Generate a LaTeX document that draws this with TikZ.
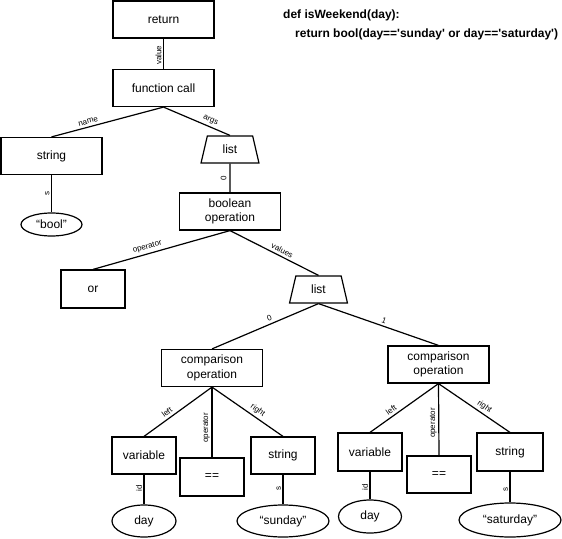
\documentclass[tikz,border=0pt]{standalone}
\usepackage{fontspec}
\setmainfont{Liberation Sans}
\newfontfamily\codefont{Liberation Sans}
\usetikzlibrary{shapes.geometric}
\tikzset{
  lw/.style={line width=1.2pt},
  box/.style={draw, lw, rectangle, minimum width=101pt, minimum height=37pt, align=center, inner sep=1pt, font=\fontsize{12}{14.4}\selectfont},
  sbox/.style={box, minimum width=64pt},
  leaf/.style={draw, lw, ellipse, minimum width=64pt, minimum height=32pt, inner sep=0pt, font=\fontsize{12}{14.4}\selectfont},
  listbox/.style={draw, lw, trapezium, trapezium angle=77, trapezium stretches=true, minimum width=58pt, minimum height=27pt, inner sep=0pt, font=\fontsize{12}{14.4}\selectfont},
  edge/.style={lw},
  lbl/.style={font=\fontsize{8}{9.6}\selectfont, inner sep=1.5pt},
  slab/.style={lbl, sloped, above, inner sep=2.5pt},
  vlab/.style={lbl, rotate=90, anchor=south},
  code/.style={anchor=base west, inner sep=0pt, font=\codefont\bfseries\fontsize{12}{14.4}\selectfont},
}
\begin{document}
\begin{tikzpicture}[x=1pt, y=-1pt]
\useasboundingbox (0,0) rectangle (562,538);

\node[code] (code1) at (283,19) {def isWeekend(day):};
\node[code] (code2) at (295,37) {return bool(day=='sunday' or day=='saturday')};

\node[box] (ret) at (163.5,19.5) {return};
\node[box] (fc) at (163.5,88) {function call};
\node[box] (str0) at (51.5,156) {string};
\node[leaf, minimum width=61pt, minimum height=23pt] (boolv) at (51.5,224.5) {“bool”};
\node[listbox] (list1) at (230,149.5) {list};
\node[box] (bop) at (230,211.5) {boolean\\operation};
\node[sbox, minimum height=38pt] (orn) at (93,289) {or};
\node[listbox] (list2) at (318.5,289.5) {list};
\node[box] (cmp1) at (212,368) {comparison\\operation};
\node[box] (cmp2) at (438.5,364.5) {comparison\\operation};
\node[sbox] (var1) at (144,455.5) {variable};
\node[sbox, minimum height=38pt] (eq1) at (212,477) {==};
\node[sbox] (str1) at (283,455.5) {string};
\node[leaf] (day1) at (144,521) {day};
\node[leaf, minimum width=92pt] (sun) at (283,521) {“sunday”};
\node[sbox, minimum height=38pt] (var2) at (370,452) {variable};
\node[sbox] (eq2) at (439,474.5) {==};
\node[sbox, minimum height=38pt, minimum width=66pt] (str2) at (510,452) {string};
\node[leaf, minimum width=63pt, minimum height=33pt] (day2) at (370,516.5) {day};
\node[leaf, minimum width=102pt, minimum height=34pt] (sat) at (510,520) {“saturday”};

\draw[edge] (ret.south) -- node[vlab, pos=0.55] {value} (fc.north);
\draw[edge] (fc.south) -- node[slab, pos=0.66] {name} (str0.north);
\draw[edge] (fc.south) -- node[slab, pos=0.67] {args} (list1.north);
\draw[edge] (str0.south) -- node[vlab, pos=0.49] {s} (boolv.north);
\draw[edge] (list1.south) -- node[vlab, pos=0.5, inner sep=3pt] {0} (bop.north);
\draw[edge] (bop.south) -- node[slab, pos=0.59] {operator} (orn.north);
\draw[edge] (bop.south) -- node[slab, pos=0.56] {values} (list2.north);
\draw[edge] (list2.south) -- node[slab, pos=0.44] {0} (cmp1.north);
\draw[edge] (list2.south) -- node[slab, pos=0.53] {1} (cmp2.north);
\draw[edge] (cmp1.south) -- node[slab, pos=0.61] {left} (var1.north);
\draw[edge] (cmp1.south) -- node[vlab, pos=0.58] {operator} (eq1.north);
\draw[edge] (cmp1.south) -- node[slab, pos=0.59] {right} (str1.north);
\draw[edge] (var1.south) -- node[vlab, pos=0.45] {id} (day1.north);
\draw[edge] (str1.south) -- node[vlab, pos=0.45] {s} (sun.north);
\draw[edge] (cmp2.south) -- node[slab, pos=0.64] {left} (var2.north);
\draw[edge] (cmp2.south) -- node[vlab, pos=0.55] {operator} (eq2.north);
\draw[edge] (cmp2.south) -- node[slab, pos=0.59] {right} (str2.north);
\draw[edge] (var2.south) -- node[vlab, pos=0.55] {id} (day2.north);
\draw[edge] (str2.south) -- node[vlab, pos=0.59] {s} (sat.north);
\end{tikzpicture}
\end{document}
